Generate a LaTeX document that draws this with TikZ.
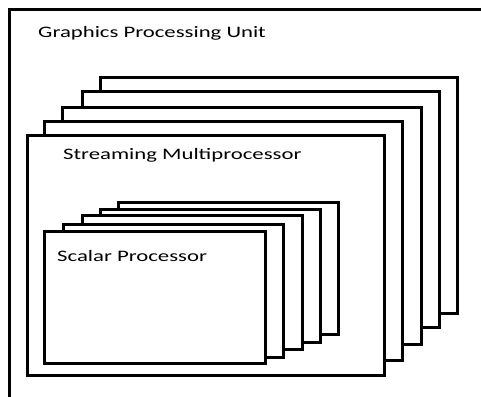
\documentclass[tikz,border=0pt]{standalone}
\usepackage{fontspec}
\setmainfont{Carlito}
\begin{document}
\begin{tikzpicture}[x=1pt,y=-1pt,
  card/.style={draw=black, line width=3pt, fill=white},
  frame/.style={draw=black, line width=3pt},
  lbl/.style={anchor=west, inner sep=0pt, font=\fontsize{16}{19}\selectfont}]
  \useasboundingbox (0,0) rectangle (481,396);
  \clip (0,0) rectangle (481,396);
  \fill[white] (0,0) rectangle (481,396);

  % outer GPU frame, running off the right and bottom edges
  \draw[frame] (9,10) rectangle (500,420);
  \node[lbl] (gpu) at (38,33) {\scalebox{1.42}[1]{Graphics Processing Unit}};

  % stack of streaming multiprocessors, back to front
  \draw[card] (100,77) rectangle (457,313);
  \draw[card] (82,91) rectangle (439,327);
  \draw[card] (62,107) rectangle (421,344);
  \draw[card] (44,121) rectangle (402,360);
  \draw[card] (27,135) rectangle (384,375);
  \node[lbl] (sm) at (63,155) {\scalebox{1.42}[1]{Streaming Multiprocessor}};

  % stack of scalar processors inside the front multiprocessor
  \draw[card] (118,202) rectangle (338,334);
  \draw[card] (100,209) rectangle (320,342);
  \draw[card] (82,215) rectangle (302,349);
  \draw[card] (63,224) rectangle (283,357);
  \draw[card] (44,231) rectangle (265,363);
  \node[lbl] (sp) at (57,256) {\scalebox{1.42}[1]{Scalar Processor}};
\end{tikzpicture}
\end{document}
